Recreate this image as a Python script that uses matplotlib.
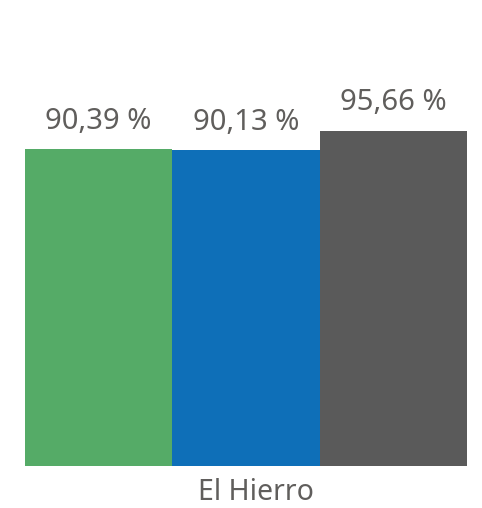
import matplotlib.pyplot as plt
from matplotlib.transforms import ScaledTranslation

categories = ['El Hierro']
series_names = ['A', 'B', 'C']
values = [90.39, 90.13, 95.66]
labels = ['90,39 %', '90,13 %', '95,66 %']
colors = ['#55AB67', '#0E6FB8', '#5A5A5A']

plt.rcParams['font.family'] = ['Noto Sans', 'DejaVu Sans']

fig = plt.figure(figsize=(4.82, 5.08), dpi=100)
ax = fig.add_axes([25 / 482, 42 / 508, 442 / 482, 466 / 508])

w = 1 / 3
for i, (v, c, lab) in enumerate(zip(values, colors, labels)):
    x = i * w
    ax.bar(x, v, width=w, align='edge', color=c, edgecolor='none')
    ax.text(x + w / 2, v + 3.8, lab, ha='center', va='bottom',
            fontsize=21, color='#605E5C')

ax.set_xlim(0, 1)
ax.set_ylim(0, 466 / 3.507)
ax.set_xticks([0.5])
ax.set_xticklabels(categories, fontsize=20.5, color='#605E5C')
ax.tick_params(axis='x', length=0, pad=9)
shift = ScaledTranslation(10 / 100, 0, fig.dpi_scale_trans)
for t in ax.get_xticklabels():
    t.set_transform(t.get_transform() + shift)
ax.set_yticks([])
for s in ax.spines.values():
    s.set_visible(False)

plt.savefig('out.png', dpi=100, facecolor='white')
plt.close()
